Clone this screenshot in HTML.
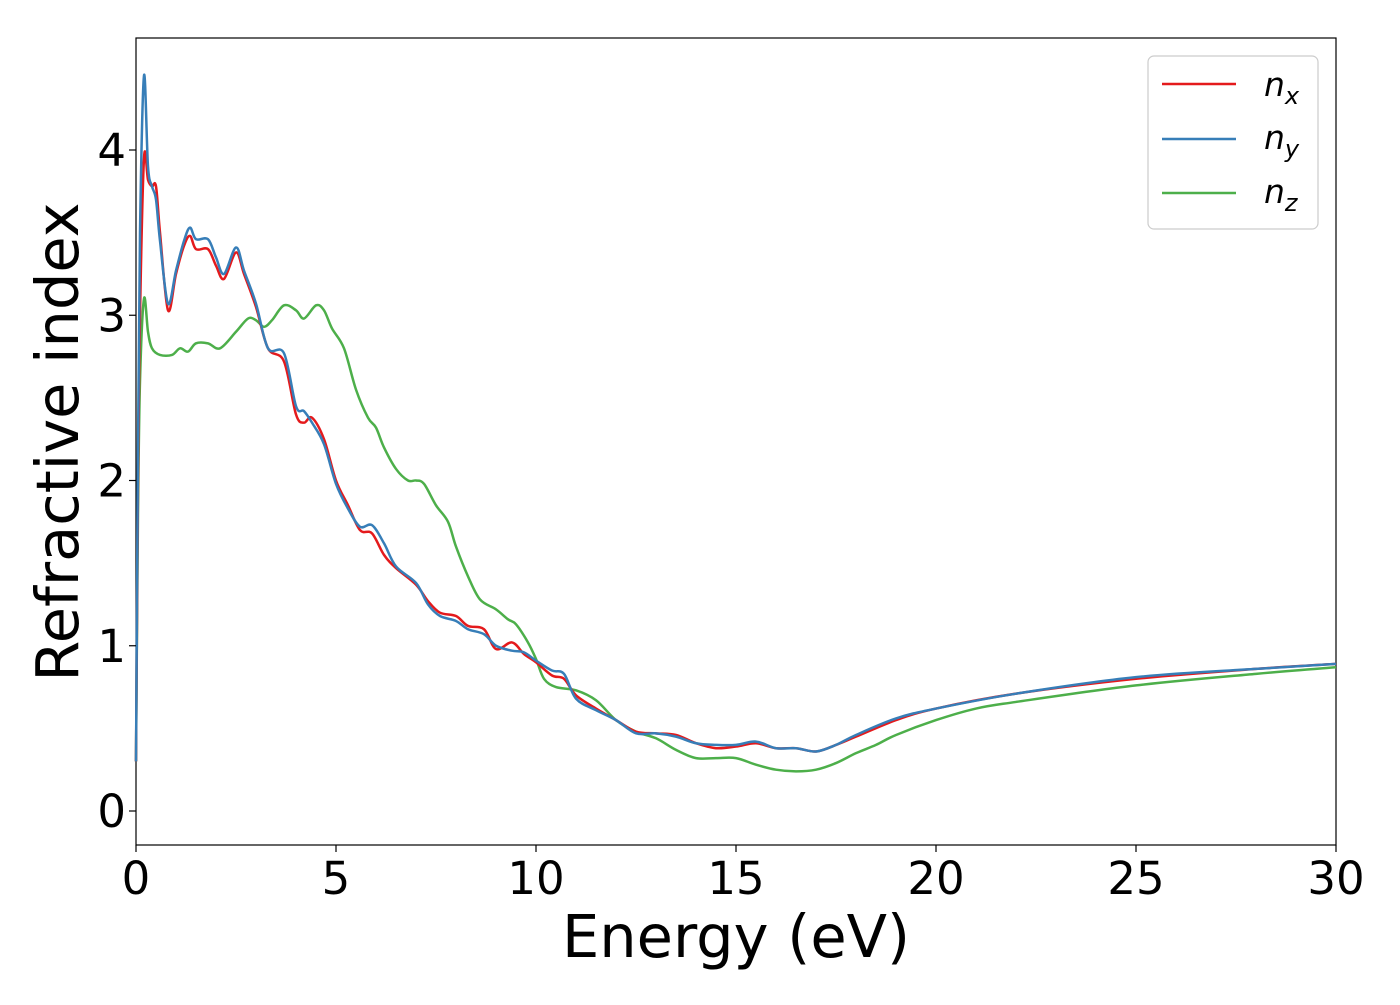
<!DOCTYPE html>
<html><head><meta charset="utf-8"><style>
body{margin:0;background:#fff;}
svg text{font-family:"DejaVu Sans","Liberation Sans",sans-serif;fill:#000;}
</style></head><body>
<svg id="chart" width="1400" height="1000">
<rect x="136" y="38" width="1200" height="807" fill="#fff" stroke="#000" stroke-width="1.2"/>
<g id="series"></g>
<g id="axes"></g>
<text x="736" y="957" font-size="59" text-anchor="middle">Energy (eV)</text>
<text transform="translate(78,442) rotate(-90)" font-size="59" text-anchor="middle">Refractive index</text>
<g>
<rect x="1148" y="56" width="170" height="173" rx="6" fill="#fff" stroke="#ccc" stroke-width="1.2"/>
<line x1="1162" x2="1236" y1="84" y2="84" stroke="#e41a1c" stroke-width="2.5"/>
<text x="1264" y="96" font-size="33" font-style="italic">n<tspan font-size="24" dy="8">x</tspan></text>
<line x1="1162" x2="1236" y1="139" y2="139" stroke="#377eb8" stroke-width="2.5"/>
<text x="1264" y="149" font-size="33" font-style="italic">n<tspan font-size="24" dy="8">y</tspan></text>
<line x1="1162" x2="1236" y1="193" y2="193" stroke="#4daf4a" stroke-width="2.5"/>
<text x="1264" y="203" font-size="33" font-style="italic">n<tspan font-size="24" dy="8">z</tspan></text>
</g>
</svg>
<script>
const xTicks=[0,5,10,15,20,25,30];
const yTicks=[0,1,2,3,4];
const nxE=[0,0.05,0.1,0.2,0.3,0.4,0.5,0.6,0.8,1.0,1.2,1.35,1.5,1.8,2.0,2.2,2.5,2.7,3.0,3.3,3.7,4.0,4.2,4.4,4.7,5.0,5.3,5.6,5.9,6.2,6.5,7.0,7.3,7.6,8.0,8.3,8.7,9.0,9.4,9.7,10.0,10.4,10.7,11,11.5,12,12.5,13,13.5,14,14.5,15,15.5,16,16.5,17,17.5,18,19,20,22,25,28,30];
const nxV=[0.3,2.0,3.0,3.95,3.82,3.78,3.78,3.5,3.03,3.25,3.42,3.48,3.40,3.40,3.30,3.22,3.38,3.25,3.05,2.80,2.72,2.40,2.35,2.38,2.25,2.00,1.85,1.70,1.68,1.55,1.47,1.37,1.27,1.20,1.18,1.12,1.10,0.98,1.02,0.95,0.90,0.82,0.80,0.70,0.62,0.55,0.48,0.47,0.46,0.41,0.38,0.39,0.41,0.38,0.38,0.36,0.40,0.45,0.55,0.62,0.71,0.80,0.86,0.89];
const nyE=[0,0.05,0.1,0.2,0.3,0.4,0.5,0.6,0.8,1.0,1.2,1.35,1.5,1.8,2.0,2.2,2.5,2.7,3.0,3.3,3.7,4.0,4.2,4.4,4.7,5.0,5.3,5.6,5.9,6.2,6.5,7.0,7.3,7.6,8.0,8.3,8.7,9.0,9.4,9.7,10.0,10.4,10.7,11,11.5,12,12.5,13,13.5,14,14.5,15,15.5,16,16.5,17,17.5,18,19,20,22,25,28,30];
const nyV=[0.3,2.2,3.5,4.45,3.90,3.78,3.70,3.45,3.07,3.27,3.45,3.53,3.46,3.46,3.35,3.25,3.41,3.27,3.07,2.80,2.77,2.45,2.42,2.35,2.22,1.98,1.83,1.72,1.73,1.62,1.48,1.38,1.25,1.18,1.15,1.10,1.07,1.00,0.97,0.96,0.91,0.85,0.83,0.68,0.61,0.55,0.47,0.47,0.45,0.41,0.40,0.40,0.42,0.38,0.38,0.36,0.40,0.46,0.56,0.62,0.71,0.81,0.86,0.89];
const nzE=[0,0.05,0.1,0.2,0.3,0.4,0.6,0.9,1.1,1.3,1.5,1.8,2.1,2.5,2.8,3.0,3.2,3.4,3.7,4.0,4.2,4.5,4.7,4.9,5.2,5.5,5.8,6.0,6.2,6.5,6.8,7.0,7.2,7.5,7.8,8.0,8.3,8.6,9.0,9.3,9.5,9.8,10.0,10.2,10.5,11,11.5,12,12.5,13,13.5,14,14.5,15,15.5,16,16.5,17,17.5,18,18.5,19,20,21,22,25,28,30];
const nzV=[0.3,1.8,2.6,3.1,2.9,2.8,2.76,2.76,2.8,2.78,2.83,2.83,2.8,2.9,2.98,2.97,2.93,2.97,3.06,3.03,2.98,3.06,3.03,2.92,2.80,2.55,2.38,2.32,2.20,2.07,2.0,2.0,1.98,1.85,1.75,1.6,1.42,1.28,1.22,1.16,1.13,1.02,0.92,0.80,0.75,0.73,0.67,0.55,0.48,0.44,0.37,0.32,0.32,0.32,0.28,0.25,0.24,0.25,0.29,0.35,0.40,0.46,0.55,0.62,0.66,0.76,0.83,0.87];
const X=v=>136+v*40, Y=v=>811-v*165.25;
const NS='http://www.w3.org/2000/svg';
const ax=document.getElementById('axes');
function mk(t,a){const e=document.createElementNS(NS,t);for(const k in a)e.setAttribute(k,a[k]);return e;}
xTicks.forEach(t=>{
 const l=mk('line',{x1:X(t),x2:X(t),y1:845,y2:852,stroke:'#000','stroke-width':1.2});
 
 
 ax.appendChild(l);
 const s=mk('text',{x:X(t),y:894,'font-size':45,'text-anchor':'middle'});s.textContent=t;
 
 
 ax.appendChild(s);
});
yTicks.forEach(t=>{
 const l=mk('line',{x1:129,x2:136,y1:Y(t),y2:Y(t),stroke:'#000','stroke-width':1.2});
 
 
 ax.appendChild(l);
 const s=mk('text',{x:126,y:Y(t)+16,'font-size':45,'text-anchor':'end'});s.textContent=t;
 
 
 ax.appendChild(s);
});
function path(E,V){
 const p=E.map((e,i)=>[X(e),Y(V[i])]);
 let d='M'+p[0][0]+','+p[0][1];
 for(let i=0;i<p.length-1;i++){
  const p0=p[Math.max(0,i-1)],p1=p[i],p2=p[i+1],p3=p[Math.min(p.length-1,i+2)];
  const c1=[p1[0]+(p2[0]-p0[0])/6,p1[1]+(p2[1]-p0[1])/6];
  const c2=[p2[0]-(p3[0]-p1[0])/6,p2[1]-(p3[1]-p1[1])/6];
  d+=` C${c1[0]},${c1[1]} ${c2[0]},${c2[1]} ${p2[0]},${p2[1]}`;
 }
 return d;
}
const g=document.getElementById('series');
[[nzE,nzV,'#4daf4a','series-nz'],[nxE,nxV,'#e41a1c','series-nx'],[nyE,nyV,'#377eb8','series-ny']].forEach(s=>{
 const p=mk('path',{d:path(s[0],s[1]),fill:'none',stroke:s[2],'stroke-width':2.5,'stroke-linejoin':'round'});
 
 
 g.appendChild(p);
});
</script>
</body></html>
